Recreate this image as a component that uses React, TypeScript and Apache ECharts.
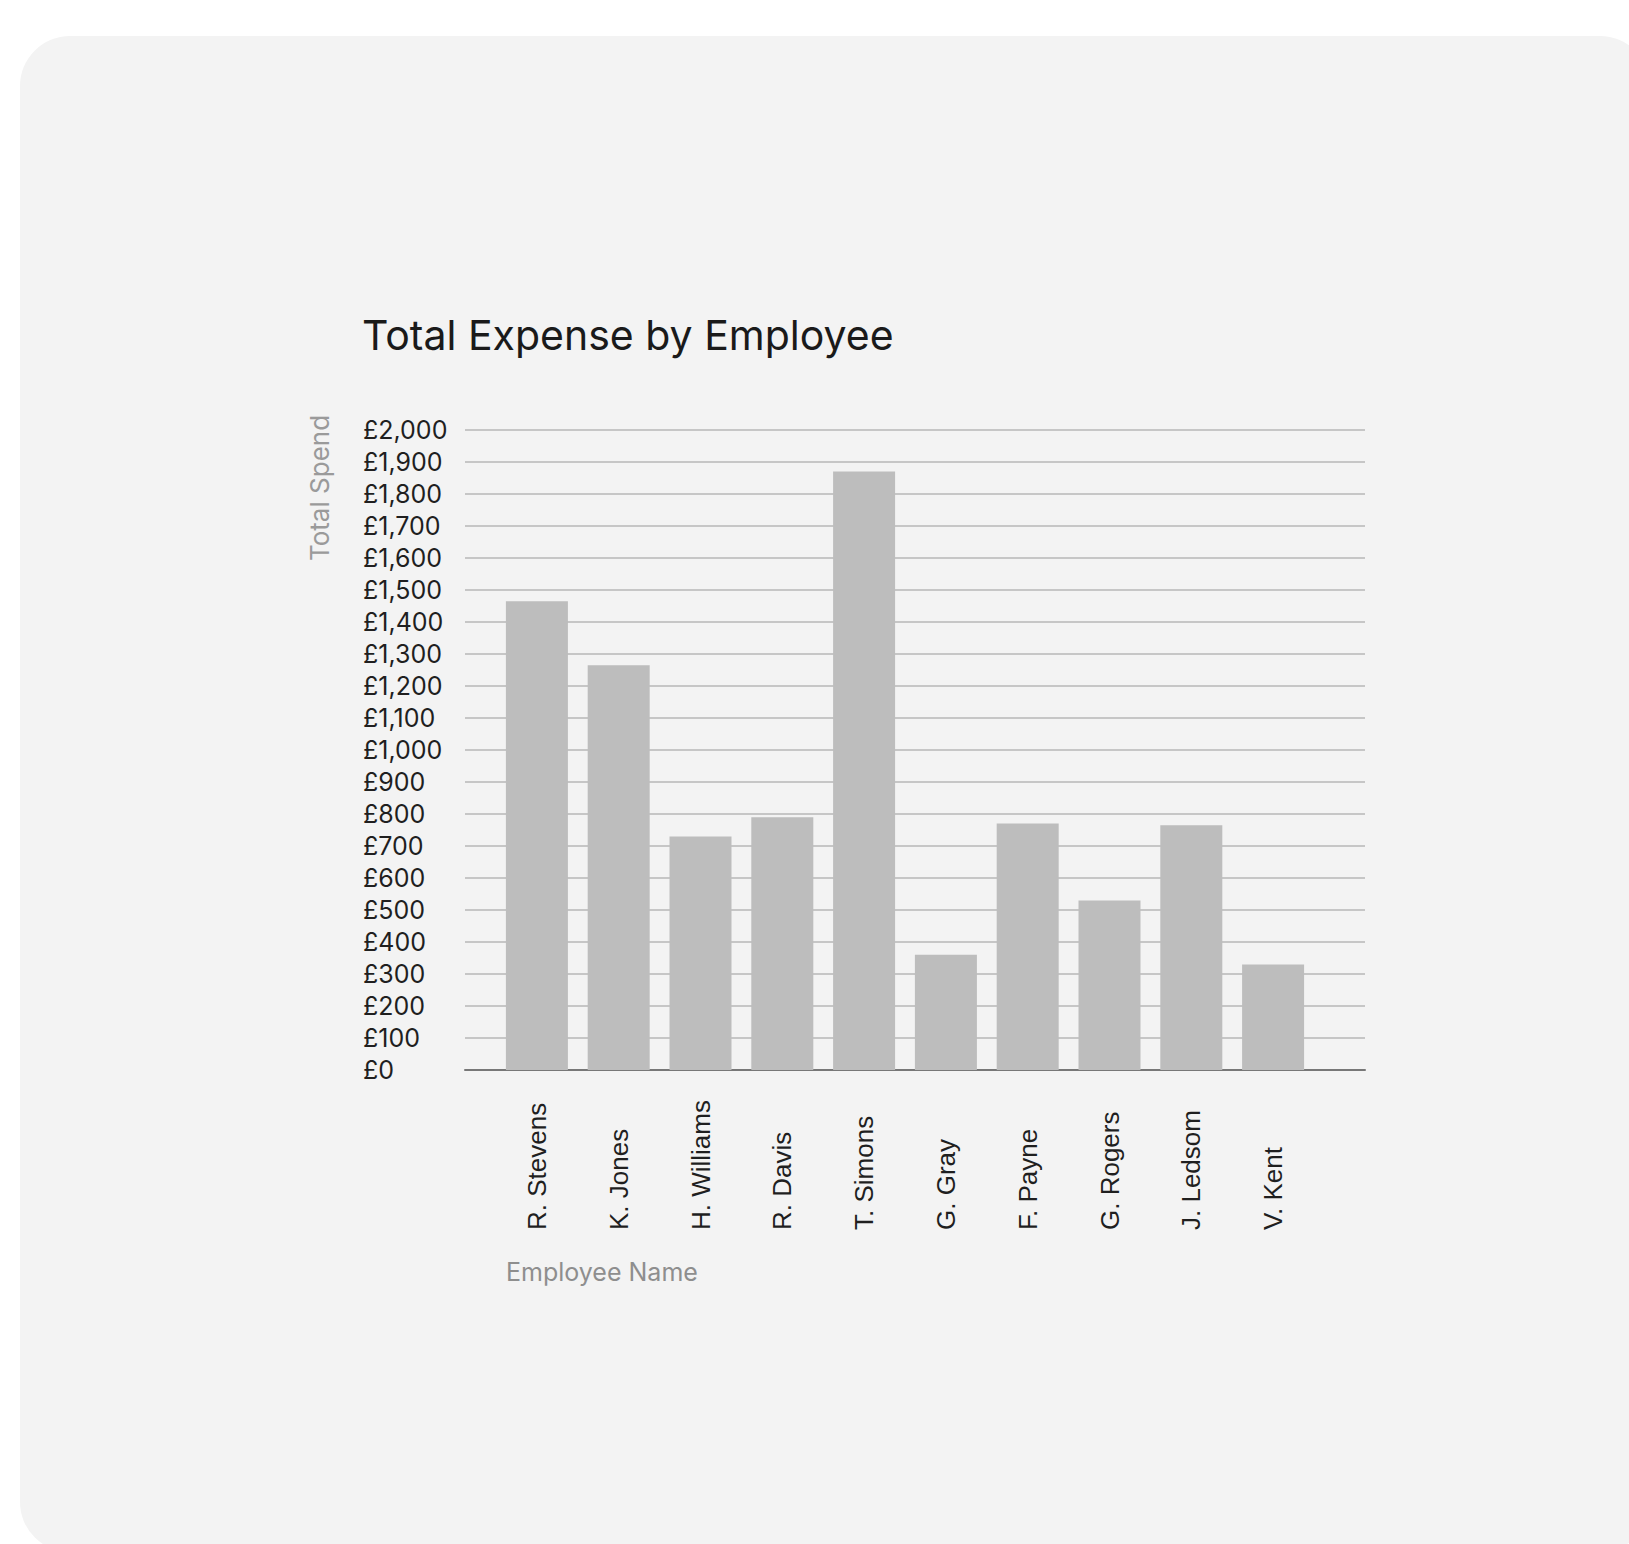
import React, { useEffect, useRef } from "react";
import * as echarts from "echarts";

const employees = [
  "R. Stevens",
  "K. Jones",
  "H. Williams",
  "R. Davis",
  "T. Simons",
  "G. Gray",
  "F. Payne",
  "G. Rogers",
  "J. Ledsom",
  "V. Kent",
];
const totalSpend = [1465, 1265, 730, 790, 1870, 360, 770, 530, 765, 330];
const yMin = 0;
const yMax = 2000;
const yStep = 100;

const chartTitle = "Total Expense by Employee";
const yAxisTitle = "Total Spend";
const xAxisTitle = "Employee Name";

export default function App() {
  const ref = useRef<HTMLDivElement>(null);
  useEffect(() => {
    document.body.style.margin = "0";
    const chart = echarts.init(ref.current!, null, { renderer: "svg" });
    const sans = "Inter, 'Noto Sans', sans-serif";
    const option: any = {
      animation: false,
      backgroundColor: "#ffffff",
      graphic: [
        {
          type: "rect",
          z: -10,
          shape: { x: 20, y: 36, width: 1630, height: 1516, r: 50 },
          style: { fill: "#f3f3f3" },
          silent: true,
        },
        {
          type: "text",
          x: 319,
          y: 488,
          rotation: Math.PI / 2,
          style: {
            text: yAxisTitle,
            fill: "#9a9a9a",
            font: "26px " + sans,
            align: "center",
            verticalAlign: "middle",
          },
        },
        {
          type: "text",
          x: 506,
          y: 1272,
          style: {
            text: xAxisTitle,
            fill: "#8e8e8e",
            font: "25px " + sans,
            align: "left",
            verticalAlign: "middle",
          },
        },
      ],
      title: {
        text: chartTitle,
        left: 357,
        top: 309,
        textStyle: {
          fontFamily: sans,
          fontSize: 41,
          fontWeight: "normal",
          color: "#1a1a1a",
        },
      },
      grid: [
        { left: 465, top: 430, width: 900, height: 640, containLabel: false },
        { left: 496, top: 430, width: 818, height: 640, containLabel: false },
      ],
      xAxis: [
        {
          gridIndex: 0,
          type: "category",
          data: [""],
          axisLine: { show: true, lineStyle: { color: "#777777", width: 2 } },
          axisTick: { show: false },
          axisLabel: { show: false },
          splitLine: { show: false },
        },
        {
          gridIndex: 1,
          type: "category",
          data: employees,
          axisLine: { show: false },
          axisTick: { show: false },
          axisLabel: {
            rotate: 90,
            align: "left",
            verticalAlign: "middle",
            margin: 160,
            fontSize: 26,
            color: "#1f1f1f",
            fontFamily: "'Liberation Sans', Arial, sans-serif",
            interval: 0,
          },
        },
      ],
      yAxis: [
        {
          gridIndex: 0,
          type: "value",
          min: yMin,
          max: yMax,
          interval: yStep,
          axisLine: { show: false },
          axisTick: { show: false },
          axisLabel: {
            align: "left",
            margin: 102,
            fontSize: 25,
            color: "#1f1f1f",
            fontFamily: sans,
            formatter: (v: number) => "£" + v.toLocaleString("en-GB"),
          },
          splitLine: { show: true, lineStyle: { color: "#c6c6c6", width: 2 } },
        },
        {
          gridIndex: 1,
          type: "value",
          min: yMin,
          max: yMax,
          show: false,
          splitLine: { show: false },
        },
      ],
      series: [
        {
          type: "bar",
          xAxisIndex: 1,
          yAxisIndex: 1,
          data: totalSpend,
          barWidth: 62,
          itemStyle: { color: "#bdbdbd" },
        },
      ],
    };
    chart.setOption(option);
    return () => chart.dispose();
  }, []);
  return (
    <div
      ref={ref}
      style={{ position: "fixed", left: 0, top: 0, width: 1629, height: 1544 }}
    />
  );
}
